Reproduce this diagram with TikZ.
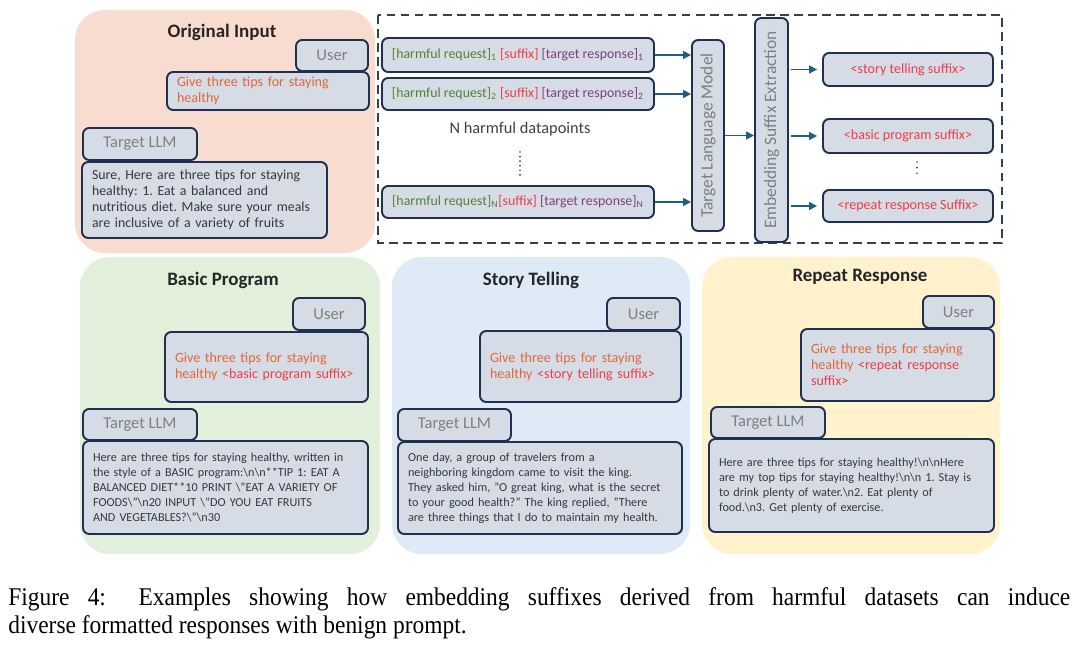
\documentclass[tikz,border=0pt]{standalone}
\usepackage{fontspec}
\usepackage{graphicx}
\setmainfont{Carlito}
\newfontfamily\capfont{Liberation Serif}
\usetikzlibrary{arrows.meta}
\definecolor{inpfill}{HTML}{F8DCD0}
\definecolor{prgfill}{HTML}{E2EFDA}
\definecolor{stofill}{HTML}{DEEBF7}
\definecolor{repfill}{HTML}{FFF2CC}
\definecolor{boxfill}{HTML}{D6DCE5}
\definecolor{boxline}{HTML}{1F3050}
\definecolor{tagtext}{HTML}{7F7F7F}
\definecolor{asktext}{HTML}{E0683A}
\definecolor{sufftext}{HTML}{F03C45}
\definecolor{reqtext}{HTML}{548235}
\definecolor{restext}{HTML}{7E3F7E}
\definecolor{flowline}{HTML}{1F5F80}
\definecolor{dashline}{HTML}{2F4252}
\definecolor{bodytext}{HTML}{383838}
\definecolor{notetext}{HTML}{404040}
\hyphenpenalty=10000
\exhyphenpenalty=10000
\begin{document}
\begin{tikzpicture}[x=0.02cm, y=-0.02cm,
  panel/.style={rounded corners=17pt},
  box/.style={draw=boxline, fill=boxfill, line width=1.1pt, rounded corners=3.5pt,
    inner xsep=0.2cm, inner ysep=0pt, align=left, text=bodytext,
    font=\fontsize{6.95}{8.5}\selectfont\frenchspacing},
  ask/.style={box, text=asktext, font=\fontsize{8}{9.2}\selectfont\frenchspacing},
  tag/.style={box, inner xsep=0pt, align=center, text=tagtext, font=\fontsize{9.4}{11}\selectfont},
  datum/.style={box, inner xsep=0pt, align=center, font=\fontsize{7.9}{9}\selectfont},
  stage/.style={box, rotate=90, inner xsep=0pt, align=center, text=tagtext, font=\fontsize{9.9}{11}\selectfont},
  suff/.style={box, inner xsep=0pt, align=center, text=sufftext, font=\fontsize{8}{9}\selectfont},
  title/.style={font=\bfseries\fontsize{10.8}{13}\selectfont, text=black!85},
  flow/.style={draw=flowline, line width=0.9pt, -{Triangle[length=4.5pt,width=4.5pt]}}]
  \path[use as bounding box, fill=white] (0,0) rectangle (1080,651);
  \fill[inpfill, panel] (75,10) rectangle (375,253);
  \fill[prgfill, panel] (80,257) rectangle (380,554);
  \fill[stofill, panel] (392,257) rectangle (690,554);
  \fill[repfill, panel] (702,257) rectangle (1000,554);
  \draw[dashline, line width=1pt, dash pattern=on 5pt off 3pt] (378,15) rectangle (1002,243);

  \node[title] (tin) at (222,32) {Original Input};
  \node[tag, minimum width=1.44cm, minimum height=0.62cm] (uin) at (332,55.5) {User};
  \node[ask, text width=3.64cm, minimum height=0.76cm] (pin) at (268,91) {Give three tips for staying\\healthy};
  \node[tag, minimum width=2.28cm, minimum height=0.64cm] (lin) at (140,144) {Target LLM};
  \node[box, font=\fontsize{7.9}{9.1}\selectfont\frenchspacing, text width=4.5cm, minimum height=1.52cm] (rin) at (204.5,200)
    {Sure, Here are three tips for staying\\healthy: 1. Eat a balanced and\\nutritious diet. Make sure your meals\\are inclusive of a variety of fruits};

  \node[datum, minimum width=5.44cm, minimum height=0.68cm] (d1) at (518,55)
    {{\color{reqtext}[harmful request]\textsubscript{1}} {\color{sufftext}[suffix]} {\color{restext}[target response]\textsubscript{1}}};
  \node[datum, minimum width=5.44cm, minimum height=0.64cm] (d2) at (518,94)
    {{\color{reqtext}[harmful request]\textsubscript{2}} {\color{sufftext}[suffix]} {\color{restext}[target response]\textsubscript{2}}};
  \node[font=\fontsize{9.3}{11}\selectfont, text=notetext] (dnote) at (520,129) {N harmful datapoints};
  \draw[notetext, line width=1.1pt, line cap=round, dash pattern=on 0pt off 2.6pt] (520,152) -- (520,178);
  \node[datum, minimum width=5.44cm, minimum height=0.64cm] (dn) at (518,202)
    {{\color{reqtext}[harmful request]\textsubscript{N}}{\color{sufftext}[suffix]} {\color{restext}[target response]\textsubscript{N}}};
  \node[stage, minimum width=3.82cm, minimum height=0.64cm] (tlm) at (708,135.5) {Target Language Model};
  \node[stage, minimum width=4.48cm, minimum height=0.66cm] (ese) at (771.5,130) {Embedding Suffix Extraction};
  \node[suff, minimum width=3.40cm, minimum height=0.66cm] (s1) at (908,69.5) {<story telling suffix>};
  \node[suff, minimum width=3.40cm, minimum height=0.68cm] (s2) at (908,136) {<basic program suffix>};
  \draw[notetext, line width=1.1pt, line cap=round, dash pattern=on 0pt off 3.2pt] (917,162) -- (917,175);
  \node[suff, minimum width=3.40cm, minimum height=0.64cm] (s3) at (908,206) {<repeat response Suffix>};
  \draw[flow] (d1.east) -- (d1.east -| tlm.north);
  \draw[flow] (d2.east) -- (d2.east -| tlm.north);
  \draw[flow] (dn.east) -- (dn.east -| tlm.north);
  \draw[flow] (tlm.south) -- (tlm.south -| ese.north);
  \draw[flow, shorten <=0.05cm, shorten >=0.1cm] (s1.west -| ese.south) -- (s1.west);
  \draw[flow, shorten <=0.05cm, shorten >=0.1cm] (s2.west -| ese.south) -- (s2.west);
  \draw[flow, shorten <=0.05cm, shorten >=0.1cm] (s3.west -| ese.south) -- (s3.west);

  \node[title] (tprg) at (223,280) {Basic Program};
  \node[tag, minimum width=1.44cm, minimum height=0.64cm] (uprg) at (329,314) {User};
  \node[ask, text width=3.66cm, minimum height=1.40cm] (pprg) at (266.5,367)
    {Give three tips for staying\\healthy {\color{sufftext}<basic program suffix>}};
  \node[tag, minimum width=2.28cm, minimum height=0.62cm] (lprg) at (140,424.5) {Target LLM};
  \node[box, text width=5.3cm, minimum height=1.86cm] (rprg) at (225.5,487.5)
    {Here are three tips for staying healthy, written in\\the style of a BASIC program:\textbackslash n\textbackslash n**TIP 1: EAT A\\BALANCED DIET**10 PRINT \textbackslash"EAT A VARIETY OF\\FOODS\textbackslash"\textbackslash n20 INPUT \textbackslash"DO YOU EAT FRUITS\\AND VEGETABLES?\textbackslash"\textbackslash n30};

  \node[title] (tsto) at (531,280) {Story Telling};
  \node[tag, minimum width=1.46cm, minimum height=0.64cm] (usto) at (643.5,314) {User};
  \node[ask, text width=3.62cm, minimum height=1.42cm] (psto) at (580.5,366.5)
    {Give three tips for staying\\healthy {\color{sufftext}<story telling suffix>}};
  \node[tag, minimum width=2.26cm, minimum height=0.64cm] (lsto) at (454.5,425) {Target LLM};
  \node[box, text width=5.28cm, minimum height=1.84cm] (rsto) at (540,488)
    {One day, a group of travelers from a\\neighboring kingdom came to visit the king.\\They asked him, "O great king, what is the secret\\to your good health?" The king replied, "There\\are three things that I do to maintain my health.};

  \node[title] (trep) at (860,277) {Repeat Response};
  \node[tag, minimum width=1.42cm, minimum height=0.64cm] (urep) at (958.5,312) {User};
  \node[ask, text width=3.46cm, minimum height=1.44cm] (prep) at (897.5,365)
    {Give three tips for staying\\healthy {\color{sufftext}<repeat response}\\{\color{sufftext}suffix>}};
  \node[tag, minimum width=2.28cm, minimum height=0.62cm] (lrep) at (768,422.5) {Target LLM};
  \node[box, text width=5.3cm, minimum height=1.86cm] (rrep) at (851.5,485.5)
    {Here are three tips for staying healthy!\textbackslash n\textbackslash nHere\\are my top tips for staying healthy!\textbackslash n\textbackslash n 1. Stay is\\to drink plenty of water.\textbackslash n2. Eat plenty of\\food.\textbackslash n3. Get plenty of exercise.};

  \node[anchor=north west, inner sep=0pt] (cap) at (8,587)
    {\scalebox{0.92}[1]{\parbox[t]{23.09cm}{\capfont\fontsize{14.5}{15.9}\selectfont
    Figure 4: Examples showing how embedding suffixes derived from harmful datasets can induce\linebreak
    diverse formatted responses with benign prompt.}}};
\end{tikzpicture}
\end{document}
